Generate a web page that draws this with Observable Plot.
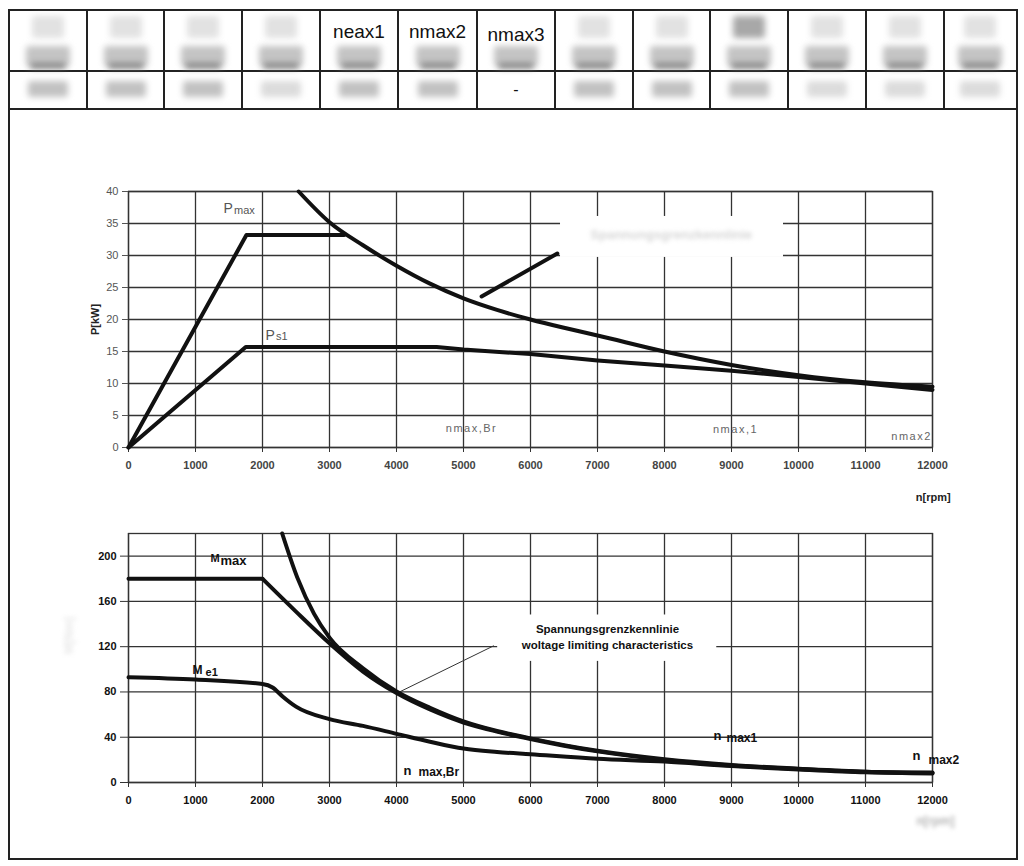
<!DOCTYPE html>
<html><head><meta charset="utf-8">
<script src="https://cdn.jsdelivr.net/npm/d3@7"></script>
<script src="https://cdn.jsdelivr.net/npm/@observablehq/plot@0.6"></script>
<style>
body{margin:0;background:#fff;}
#page{position:relative;width:1024px;height:866px;overflow:hidden;font-family:"Liberation Sans",Arial,sans-serif;background:#fff;}
.frame{position:absolute;left:8px;top:9px;width:1006px;height:847px;border:2px solid #222;box-sizing:content-box;}
.line{position:absolute;background:#222;}
.cellText{position:absolute;font-size:19px;color:#111;text-align:center;line-height:20px;}
.blob{position:absolute;filter:blur(3px);border-radius:3px;}
.chart{position:absolute;left:0;}
g[fill="#d6d6d6"], g[fill="#b4b4b4"], g[fill="#e8e8e8"]{filter:blur(2px);}
g[fill="#666"]{letter-spacing:1.5px;}
</style></head><body><div id="page"></div>
<script>
// ---------- data ----------
const colEdges = [9, 87, 164, 242, 320, 398, 477, 555, 633, 710, 788, 866, 944, 1016];
const rowEdges = [10, 71, 109];
const headerRow1 = ["", "", "", "", "neax1", "nmax2", "nmax3", "", "", "", "", "", ""];
const headerRow2 = ["", "", "", "", "", "", "-", "", "", "", "", "", ""];

const xTicks = [0, 1000, 2000, 3000, 4000, 5000, 6000, 7000, 8000, 9000, 10000, 11000, 12000];
const pTicks = [0, 5, 10, 15, 20, 25, 30, 35, 40];
const mTicks = [0, 40, 80, 120, 160, 200];

// power chart (P[kW] vs n[rpm])
const nPmax = [0, 1760, 3220];
const pPmax = [0, 33.2, 33.2];
const nPs1 = [0, 1750, 4600, 5000, 6000, 7000, 8000, 9000, 10000, 11000, 12000];
const pPs1 = [0, 15.7, 15.7, 15.3, 14.6, 13.6, 12.8, 12.0, 11.0, 10.0, 9.0];
const nPvolt = [2540, 3000, 3500, 4000, 4500, 5000, 5500, 6000, 6500, 7000, 8000, 9000, 10000, 11000, 12000];
const pPvolt = [40, 35.2, 31.6, 28.4, 25.6, 23.3, 21.5, 20.0, 18.7, 17.5, 15.0, 12.9, 11.3, 10.2, 9.5];
const nPpointer = [5270, 6400];
const pPpointer = [23.6, 30.3];

// torque chart (M vs n[rpm])
const nMmaxFlat = [0, 2000];
const mMmaxFlat = [180, 180];
const nMmax = [2000, 2500, 3000, 3500, 4000, 4500, 5000, 5500, 6000, 6500, 7000, 8000, 9000, 10000, 11000, 12000];
const mMmax = [180, 151, 123, 98, 79, 64.5, 53, 45, 38.5, 32.5, 27.5, 20, 15, 12, 9.5, 8.5];
const nMvolt = [2294, 2520, 2770, 3000, 3500, 4000, 4500, 5000, 5500, 6000, 6500, 7000, 8000, 9000, 10000, 11000, 12000];
const mMvolt = [220, 181, 149, 128, 101, 80.5, 66, 54, 45.5, 39, 33, 28, 20.5, 15.5, 12.2, 9.6, 8.8];
const nMe1 = [0, 1000, 2000, 2150, 2300, 2500, 3000, 3500, 4000, 4500, 5000, 5500, 6000, 7000, 8000, 9000, 10000, 11000, 12000];
const mMe1 = [93, 91, 87, 84, 76, 67, 56, 50, 43, 36, 30, 27, 25, 21, 18.5, 14.5, 11.5, 9, 8];
const nMpointer = [4010, 5448];
const mMpointer = [79, 120.7];

// ---------- helpers ----------
const rows = (xs, ys) => xs.map((x, i) => ({x, y: ys[i]}));
const page = document.getElementById("page");
function el(cls, style, text) {
  const d = document.createElement("div");
  d.className = cls;
  Object.assign(d.style, style);
  if (text != null) d.textContent = text;
  page.appendChild(d);
  return d;
}

// ---------- header table ----------
el("frame", {});
colEdges.slice(1, -1).forEach(x => el("line", {left: (x - 1) + "px", top: rowEdges[0] + "px", width: "2px", height: (rowEdges[2] - rowEdges[0]) + "px"}));
el("line", {left: colEdges[0] + "px", top: (rowEdges[1] - 1) + "px", width: (colEdges[13] - colEdges[0]) + "px", height: "2px"});
el("line", {left: colEdges[0] + "px", top: (rowEdges[2] - 1) + "px", width: (colEdges[13] - colEdges[0]) + "px", height: "2px"});
for (let i = 0; i < 13; i++) {
  const x0 = colEdges[i], x1 = colEdges[i + 1], cx = (x0 + x1) / 2;
  if (!headerRow1[i]) el("blob", {left: (cx - 16) + "px", top: "16px", width: "32px", height: "22px", background: i === 9 ? "#a8a8a8" : "#e2e2e2"});
  el("blob", {left: (cx - 22) + "px", top: "46px", width: "44px", height: "20px", background: "#c4c4c4"});
  el("blob", {left: (cx - 18) + "px", top: "64px", width: "36px", height: "4px", background: "#555"});
  if (headerRow1[i]) el("cellText", {left: x0 + "px", width: (x1 - x0) + "px", top: (i === 6 ? 25 : 22) + "px"}, headerRow1[i]);
  if (headerRow2[i]) el("cellText", {left: x0 + "px", width: (x1 - x0) + "px", top: "80px", fontSize: "16px"}, headerRow2[i]);
  else el("blob", {left: (cx - 20) + "px", top: "81px", width: "40px", height: "16px", background: i === 3 || i === 10 || i === 11 || i === 12 ? "#dcdcdc" : "#c2c2c2"});
}

const gridStyle = {stroke: "#333", strokeOpacity: 1, strokeWidth: 1.3};
const fontFam = "'Liberation Sans', Arial, sans-serif";

// ---------- power chart ----------
const topChart = Plot.plot({
  width: 1024, height: 340,
  marginLeft: 128, marginRight: 92, marginTop: 21, marginBottom: 63,
  x: {domain: [0, 12000]},
  y: {domain: [0, 40]},
  style: {fontFamily: fontFam, fontSize: "11px", background: "transparent", overflow: "visible"},
  marks: [
    Plot.gridX(xTicks, gridStyle),
    Plot.gridY(pTicks, gridStyle),
    Plot.frame({stroke: "#333", strokeWidth: 1.3}),
    Plot.axisX(xTicks, {tickSize: 5, tickPadding: 9, tickFormat: d3.format("d"), label: null, fill: "#444", fontWeight: "bold", stroke: "#333"}),
    Plot.axisY(pTicks, {tickSize: 6, tickPadding: 4, label: null, fill: "#555", stroke: "#555"}),
    Plot.rect([{x1: 6448, x2: 9776, y1: 29.7, y2: 36.1}], {x1: "x1", x2: "x2", y1: "y1", y2: "y2", fill: "white"}),
    Plot.text([{x: 8100, y: 33.2, t: "Spannungsgrenzkennlinie"}], {x: "x", y: "y", text: "t", fill: "#d6d6d6", fontSize: 13, fontWeight: "bold"}),
    Plot.line(rows(nPmax, pPmax), {x: "x", y: "y", stroke: "#111", strokeWidth: 4}),
    Plot.line(rows(nPs1, pPs1), {x: "x", y: "y", stroke: "#111", strokeWidth: 4}),
    Plot.line(rows(nPvolt, pPvolt), {x: "x", y: "y", stroke: "#111", strokeWidth: 4, curve: "monotone-x"}),
    Plot.line(rows(nPpointer, pPpointer), {x: "x", y: "y", stroke: "#111", strokeWidth: 4}),
    Plot.text([{x: 1418, y: 37.3, t: "P"}], {x: "x", y: "y", text: "t", fill: "#555", fontSize: 14, textAnchor: "start"}),
    Plot.text([{x: 1575, y: 37.0, t: "max"}], {x: "x", y: "y", text: "t", fill: "#555", fontSize: 11, textAnchor: "start"}),
    Plot.text([{x: 2045, y: 17.5, t: "P"}], {x: "x", y: "y", text: "t", fill: "#555", fontSize: 14, textAnchor: "start"}),
    Plot.text([{x: 2200, y: 17.3, t: "s1"}], {x: "x", y: "y", text: "t", fill: "#555", fontSize: 11, textAnchor: "start"}),
    Plot.text([{x: 5120, y: 3.0, t: "nmax,Br"}], {x: "x", y: "y", text: "t", fill: "#666", fontSize: 11}),
    Plot.text([{x: 9060, y: 2.8, t: "nmax,1"}], {x: "x", y: "y", text: "t", fill: "#666", fontSize: 11}),
    Plot.text([{x: 11990, y: 1.7, t: "nmax2"}], {x: "x", y: "y", text: "t", fill: "#666", fontSize: 11, textAnchor: "end"}),
    Plot.text([{x: 12270, y: -7.8, t: "n[rpm]"}], {x: "x", y: "y", text: "t", fill: "#222", fontSize: 11, fontWeight: "bold", textAnchor: "end"}),
    Plot.text([{x: -493, y: 20, t: "P[kW]"}], {x: "x", y: "y", text: "t", fill: "#222", fontSize: 11, fontWeight: "bold", rotate: -90})
  ]
});
topChart.classList.add("chart");
topChart.style.top = "170px";
page.appendChild(topChart);

// ---------- torque chart ----------
const botChart = Plot.plot({
  width: 1024, height: 330,
  marginLeft: 128, marginRight: 92, marginTop: 23, marginBottom: 58,
  x: {domain: [0, 12000]},
  y: {domain: [0, 220]},
  style: {fontFamily: fontFam, fontSize: "11px", background: "transparent", overflow: "visible"},
  marks: [
    Plot.gridX(xTicks, gridStyle),
    Plot.gridY(mTicks, gridStyle),
    Plot.frame({stroke: "#333", strokeWidth: 1.3}),
    Plot.axisX(xTicks, {tickSize: 5, tickPadding: 9, tickFormat: d3.format("d"), label: null, fill: "#111", fontWeight: "bold", stroke: "#333"}),
    Plot.axisY(mTicks, {tickSize: 8, tickPadding: 4, label: null, fill: "#111", fontWeight: "bold", stroke: "#333"}),
    Plot.rect([{x1: 5510, x2: 8780, y1: 107, y2: 148}], {x1: "x1", x2: "x2", y1: "y1", y2: "y2", fill: "white"}),
    Plot.line(rows(nMpointer, mMpointer), {x: "x", y: "y", stroke: "#333", strokeWidth: 1}),
    Plot.line(rows(nMmaxFlat, mMmaxFlat), {x: "x", y: "y", stroke: "#111", strokeWidth: 4}),
    Plot.line(rows(nMmax, mMmax), {x: "x", y: "y", stroke: "#111", strokeWidth: 4, curve: "monotone-x"}),
    Plot.line(rows(nMvolt, mMvolt), {x: "x", y: "y", stroke: "#111", strokeWidth: 4, curve: "monotone-x"}),
    Plot.line(rows(nMe1, mMe1), {x: "x", y: "y", stroke: "#111", strokeWidth: 4, curve: "monotone-x"}),
    Plot.text([{x: 7149, y: 135.7, t: "Spannungsgrenzkennlinie"}], {x: "x", y: "y", text: "t", fill: "#111", fontSize: 11.5, fontWeight: "bold"}),
    Plot.text([{x: 7149, y: 121.6, t: "woltage limiting characteristics"}], {x: "x", y: "y", text: "t", fill: "#111", fontSize: 11.5, fontWeight: "bold"}),
    Plot.text([{x: 1224, y: 198, t: "M"}], {x: "x", y: "y", text: "t", fill: "#111", fontSize: 11, fontWeight: "bold", textAnchor: "start"}),
    Plot.text([{x: 1373, y: 195.6, t: "max"}], {x: "x", y: "y", text: "t", fill: "#111", fontSize: 13, fontWeight: "bold", textAnchor: "start"}),
    Plot.text([{x: 955, y: 99.6, t: "M"}], {x: "x", y: "y", text: "t", fill: "#111", fontSize: 12, fontWeight: "bold", textAnchor: "start"}),
    Plot.text([{x: 1150, y: 97, t: "e1"}], {x: "x", y: "y", text: "t", fill: "#111", fontSize: 11, fontWeight: "bold", textAnchor: "start"}),
    Plot.text([{x: 4104, y: 10.6, t: "n"}], {x: "x", y: "y", text: "t", fill: "#111", fontSize: 13, fontWeight: "bold", textAnchor: "start"}),
    Plot.text([{x: 4328, y: 8.8, t: "max,Br"}], {x: "x", y: "y", text: "t", fill: "#111", fontSize: 12, fontWeight: "bold", textAnchor: "start"}),
    Plot.text([{x: 8731, y: 41.4, t: "n"}], {x: "x", y: "y", text: "t", fill: "#111", fontSize: 13, fontWeight: "bold", textAnchor: "start"}),
    Plot.text([{x: 8925, y: 38.8, t: "max1"}], {x: "x", y: "y", text: "t", fill: "#111", fontSize: 12, fontWeight: "bold", textAnchor: "start"}),
    Plot.text([{x: 11701, y: 23.8, t: "n"}], {x: "x", y: "y", text: "t", fill: "#111", fontSize: 13, fontWeight: "bold", textAnchor: "start"}),
    Plot.text([{x: 11940, y: 19.4, t: "max2"}], {x: "x", y: "y", text: "t", fill: "#111", fontSize: 12, fontWeight: "bold", textAnchor: "start"}),
    Plot.text([{x: 12045, y: -34.5, t: "n[rpm]"}], {x: "x", y: "y", text: "t", fill: "#b4b4b4", fontSize: 12, fontWeight: "bold"}),
    Plot.text([{x: -880, y: 130, t: "M[Nm]"}], {x: "x", y: "y", text: "t", fill: "#e8e8e8", fontSize: 12, fontWeight: "bold", rotate: -90})
  ]
});
botChart.classList.add("chart");
botChart.style.top = "510px";
page.appendChild(botChart);
</script></body></html>
